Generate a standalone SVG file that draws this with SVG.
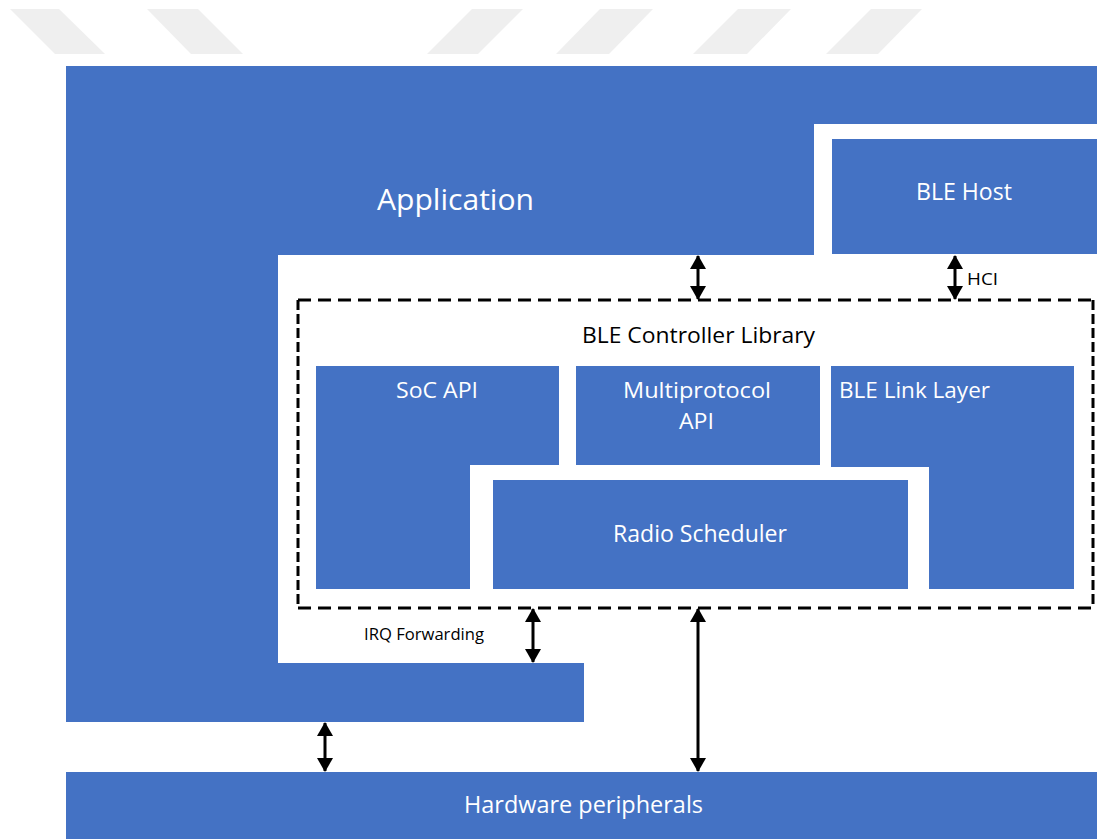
<svg xmlns="http://www.w3.org/2000/svg" width="1097" height="839" viewBox="0 0 1097 839">
<style>
.blk{fill:#4472c4}
.wt{fill:#ffffff;font-family:"Open Sans","Noto Sans",sans-serif}
.bt{fill:#000000;font-family:"Open Sans","Noto Sans",sans-serif}
.stripe{fill:#efefef}
.dash{stroke:#000;stroke-width:3;fill:none}
.arr{stroke:#000;stroke-width:3;fill:none;marker-start:url(#ah);marker-end:url(#ah)}
</style>
<defs>
<marker id="ah" viewBox="0 0 14 16" refX="13" refY="8" markerWidth="14" markerHeight="16" markerUnits="userSpaceOnUse" orient="auto-start-reverse">
<path d="M0,0 L14,8 L0,16 Z" fill="#000"/>
</marker>
</defs>
<rect width="1097" height="839" fill="#ffffff"/>
<g id="stripes">
<polygon class="stripe" points="10,9 59,9 105,54 55,54"/>
<polygon class="stripe" points="147,9 198,9 243,54 191,54"/>
<polygon class="stripe" points="472,9 523,9 478,54 427,54"/>
<polygon class="stripe" points="600,9 653,9 609,54 556,54"/>
<polygon class="stripe" points="738,9 791,9 747,54 693,54"/>
<polygon class="stripe" points="871,9 922,9 878,54 826,54"/>
</g>
<g id="application">
<polygon class="blk" points="66,66 1097,66 1097,124 814,124 814,255 278,255 278,663 584,663 584,722 66,722"/>
<text class="wt" x="377" y="210" font-size="29" textLength="157" lengthAdjust="spacingAndGlyphs">Application</text>
</g>
<g id="ble-host">
<rect class="blk" x="832" y="139" width="265" height="115"/>
<text class="wt" x="916" y="200" font-size="23" textLength="96" lengthAdjust="spacingAndGlyphs">BLE Host</text>
</g>
<g id="controller">
<line class="dash" x1="298" y1="300" x2="1094" y2="300" stroke-dasharray="13 7"/>
<line class="dash" x1="298" y1="608" x2="1094" y2="608" stroke-dasharray="13 7"/>
<line class="dash" x1="298" y1="300" x2="298" y2="608" stroke-dasharray="10 4"/>
<line class="dash" x1="1093" y1="300" x2="1093" y2="608" stroke-dasharray="10 4"/>
<text class="bt" x="582" y="343" font-size="22.5" textLength="233" lengthAdjust="spacingAndGlyphs">BLE Controller Library</text>
</g>
<g id="soc-api">
<polygon class="blk" points="316,366 559,366 559,465 470,465 470,589 316,589"/>
<text class="wt" x="396" y="398" font-size="22" textLength="82" lengthAdjust="spacingAndGlyphs">SoC API</text>
</g>
<g id="multiprotocol-api">
<rect class="blk" x="576" y="366" width="244" height="99"/>
<text class="wt" x="623" y="398" font-size="22" textLength="148" lengthAdjust="spacingAndGlyphs">Multiprotocol</text>
<text class="wt" x="679" y="429" font-size="22" textLength="35" lengthAdjust="spacingAndGlyphs">API</text>
</g>
<g id="ble-link-layer">
<polygon class="blk" points="831,366 1074,366 1074,589 929,589 929,467 831,467"/>
<text class="wt" x="839" y="398" font-size="22" textLength="151" lengthAdjust="spacingAndGlyphs">BLE Link Layer</text>
</g>
<g id="radio-scheduler">
<rect class="blk" x="493" y="480" width="415" height="109"/>
<text class="wt" x="613" y="542" font-size="23" textLength="174" lengthAdjust="spacingAndGlyphs">Radio Scheduler</text>
</g>
<g id="hardware">
<rect class="blk" x="66" y="772" width="1031" height="67"/>
<text class="wt" x="464" y="813" font-size="24" textLength="239" lengthAdjust="spacingAndGlyphs">Hardware peripherals</text>
</g>
<g id="connectors">
<line class="arr" x1="698" y1="256" x2="698" y2="299"/>
<line class="arr" x1="955" y1="256" x2="955" y2="299"/>
<line class="arr" x1="533" y1="609" x2="533" y2="662"/>
<line class="arr" x1="698" y1="609" x2="698" y2="771"/>
<line class="arr" x1="325" y1="723" x2="325" y2="771"/>
<text class="bt" x="967" y="285" font-size="17" textLength="31" lengthAdjust="spacingAndGlyphs">HCI</text>
<text class="bt" x="364" y="640" font-size="15.5" textLength="120" lengthAdjust="spacingAndGlyphs">IRQ Forwarding</text>
</g>
</svg>
